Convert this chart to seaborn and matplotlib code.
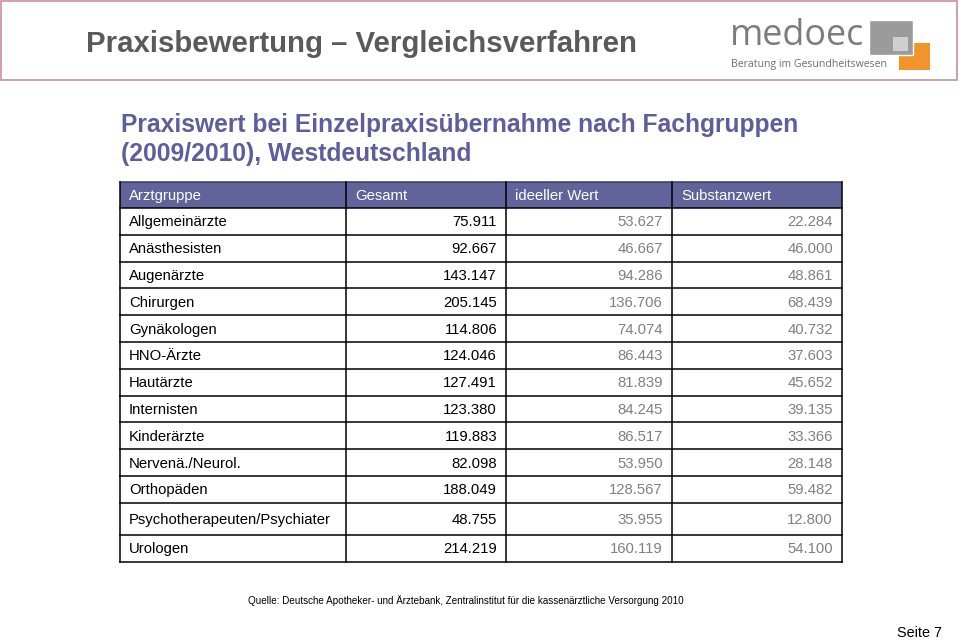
import numpy as np
import pandas as pd
import matplotlib.pyplot as plt
import seaborn as sns
from matplotlib.patches import Rectangle


columns=['Arztgruppe','Gesamt','ideeller Wert','Substanzwert']
groups=['Allgemeinärzte','Anästhesisten','Augenärzte','Chirurgen','Gynäkologen','HNO-Ärzte',
        'Hautärzte','Internisten','Kinderärzte','Nervenä./Neurol.','Orthopäden',
        'Psychotherapeuten/Psychiater','Urologen']
gesamt=[75911,92667,143147,205145,114806,124046,127491,123380,119883,82098,188049,48755,214219]
ideell=[53627,46667,94286,136706,74074,86443,81839,84245,86517,53950,128567,35955,160119]
substanz=[22284,46000,48861,68439,40732,37603,45652,39135,33366,28148,59482,12800,54100]

df=pd.DataFrame({'Arztgruppe':groups,'Gesamt':gesamt,'ideeller Wert':ideell,'Substanzwert':substanz})


def fmt(v):
    # german thousands separator
    return f"{v:,}".replace(',','.')


sns.set_theme(style='white')
plt.rcParams['font.family']=['Liberation Sans','DejaVu Sans']

fig=plt.figure(figsize=(9.59,6.40),dpi=100)
ax=fig.add_axes([0,0,1,1])
ax.set_xlim(0,959)
ax.set_ylim(640,0)
ax.axis('off')

# slide header
ax.add_patch(Rectangle((1,1),956,79,fill=False,edgecolor='#c8909c',lw=1.2))
ax.text(86,44,'Praxisbewertung – Vergleichsverfahren',fontsize=21.2,fontweight='bold',
        color='#5a5a5a',va='center',ha='left')

# logo
ax.text(730,36,'medoec',fontsize=25.8,color='#7c7c7c',va='center',ha='left',family=['Open Sans','DejaVu Sans'])
ax.text(731,64,'Beratung im Gesundheitswesen',fontsize=7.6,color='#6e6e6e',va='center',ha='left',
        family=['Open Sans','DejaVu Sans'])
ax.add_patch(Rectangle((899,43),31,27,facecolor='#f0952c',edgecolor='none'))
ax.add_patch(Rectangle((869,20),44,35,facecolor='#9b9b9b',edgecolor='white',lw=1))
ax.add_patch(Rectangle((893,37),15,14,facecolor='#cfcfcf',edgecolor='none'))

# subtitle
ax.text(121,125,'Praxiswert bei Einzelpraxisübernahme nach Fachgruppen',fontsize=17.7,
        fontweight='bold',color='#5e5e9c',va='center',ha='left')
ax.text(121,154,'(2009/2010), Westdeutschland',fontsize=17.7,fontweight='bold',
        color='#5e5e9c',va='center',ha='left')

# table geometry
col_edges=[120,346,506,672,842]
row_h=[26.8]*len(df)
row_h[11]=32
top=182
head_h=26
edges=[top,top+head_h]
for h in row_h:
    edges.append(edges[-1]+h)

ax.add_patch(Rectangle((col_edges[0],top),col_edges[-1]-col_edges[0],head_h,
                       facecolor='#62639b',edgecolor='none'))
for j,c in enumerate(columns):
    ax.text(col_edges[j]+9,top+head_h/2+1,c,fontsize=10.7,color='white',va='center',ha='left')

num_colors=['black','#808080','#808080']
for i,row in df.iterrows():
    yc=(edges[i+1]+edges[i+2])/2+1
    ax.text(col_edges[0]+9,yc,row['Arztgruppe'],fontsize=10.7,color='black',va='center',ha='left')
    for j,c in enumerate(columns[1:]):
        ax.text(col_edges[j+2]-9,yc,fmt(row[c]),fontsize=10.7,color=num_colors[j],va='center',ha='right')

lw=1.1
for y in edges[1:]:
    ax.plot([col_edges[0],col_edges[-1]],[y,y],color='black',lw=lw,solid_capstyle='projecting')
ax.plot([col_edges[0],col_edges[-1]],[top,top],color='#3c3c5c',lw=lw)
for x in col_edges:
    ax.plot([x,x],[top,edges[-1]],color='black',lw=lw,solid_capstyle='projecting')

# footer
ax.text(248,601,'Quelle: Deutsche Apotheker- und Ärztebank, Zentralinstitut für die kassenärztliche Versorgung 2010',
        fontsize=7.1,color='black',va='center',ha='left')
ax.text(942,633,'Seite 7',fontsize=10.4,color='black',va='center',ha='right')

plt.savefig('out.png',dpi=100)
